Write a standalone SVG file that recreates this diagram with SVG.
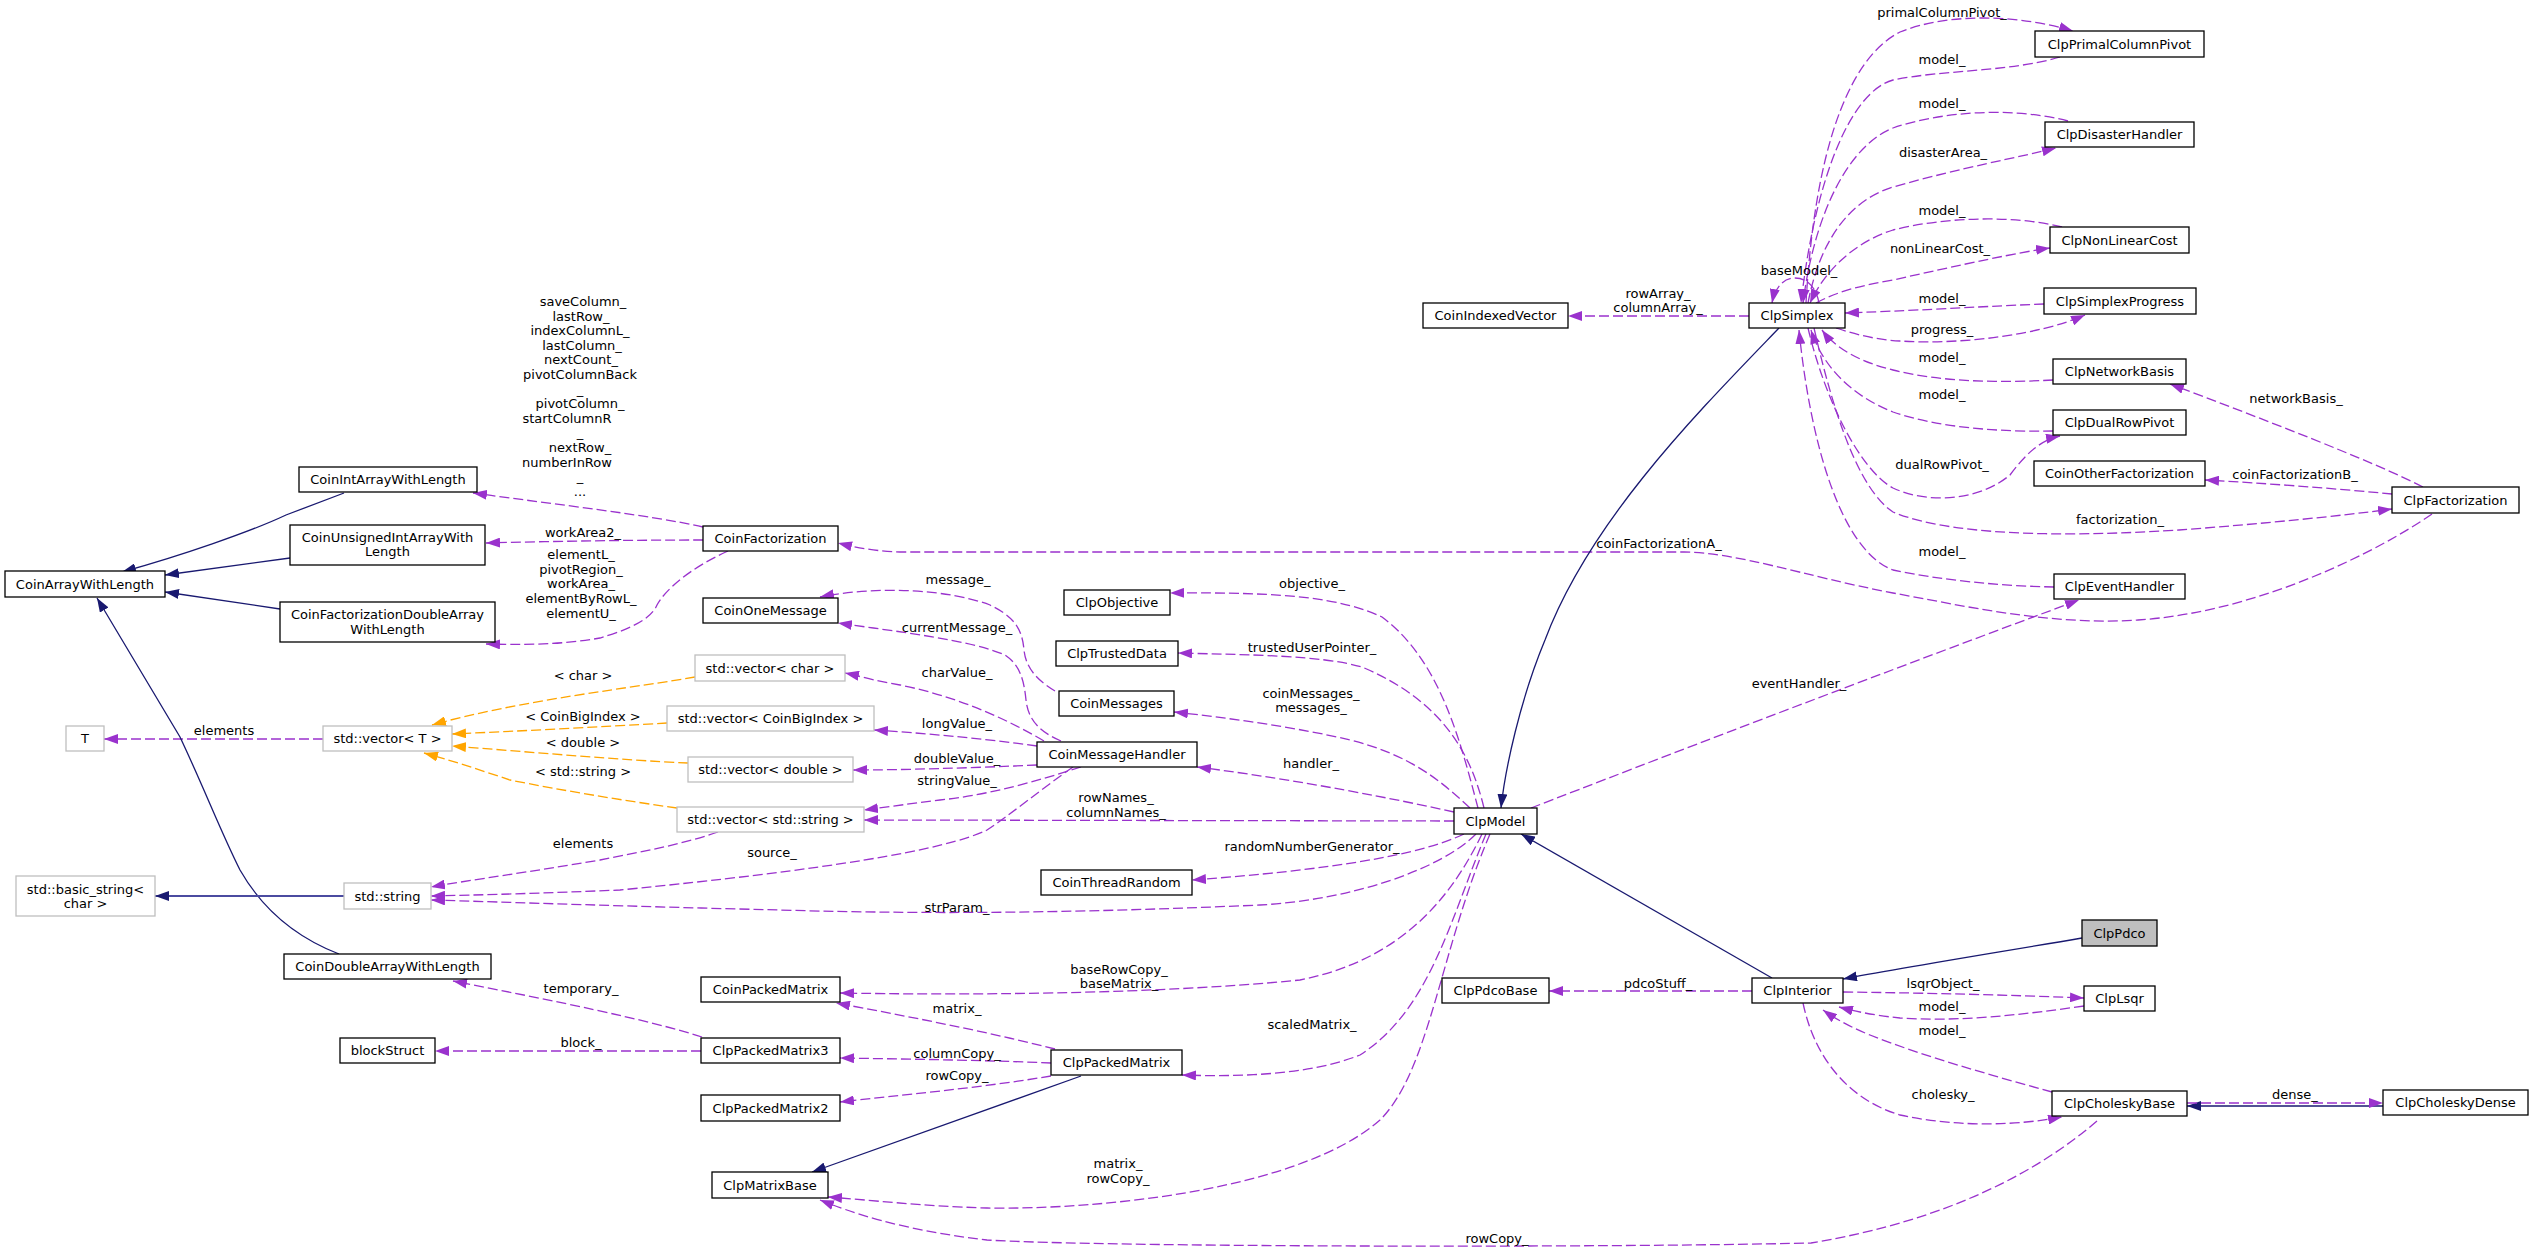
<svg xmlns="http://www.w3.org/2000/svg" width="2533" height="1252" viewBox="0 0 2533 1252">
<style>
text{font-family:"DejaVu Sans",sans-serif;font-size:13px;fill:#000}
.l{text-anchor:middle}
.n text{text-anchor:middle}
.n rect{fill:#fff;stroke:#000;stroke-width:1.3}
.g rect{stroke:#bfbfbf}
.e{fill:none;stroke-width:1.3}
.u{stroke:#9a32cd;stroke-dasharray:10,4;marker-end:url(#ap)}
.i{stroke:#191970;marker-end:url(#an)}
.t{stroke:#ffa500;stroke-dasharray:10,4;marker-end:url(#ao)}
</style>
<defs>
<marker id="ap" viewBox="0 0 14 10" refX="14" refY="5" markerWidth="14" markerHeight="10" markerUnits="userSpaceOnUse" orient="auto"><path d="M0,0L14,5L0,10z" fill="#9a32cd"/></marker>
<marker id="an" viewBox="0 0 14 10" refX="14" refY="5" markerWidth="14" markerHeight="10" markerUnits="userSpaceOnUse" orient="auto"><path d="M0,0L14,5L0,10z" fill="#191970"/></marker>
<marker id="ao" viewBox="0 0 14 10" refX="14" refY="5" markerWidth="14" markerHeight="10" markerUnits="userSpaceOnUse" orient="auto"><path d="M0,0L14,5L0,10z" fill="#ffa500"/></marker>
</defs>
<rect x="0" y="0" width="2533" height="1252" fill="#fff"/>
<g id="edges">
<!-- ClpSimplex neighbourhood -->
<path class="e u" d="M1806,303 C1814,160 1845,60 1900,32 C1950,12 2020,15 2073,31"/>
<path class="e u" d="M2060,57 C2010,72 1940,70 1893,80 C1850,92 1815,180 1801,303"/>
<path class="e u" d="M2068,121 C2010,106 1940,112 1893,128 C1850,145 1815,210 1803,303"/>
<path class="e u" d="M1808,303 C1820,240 1850,200 1893,187 C1960,168 2020,157 2056,148"/>
<path class="e u" d="M2062,227 C2010,214 1940,218 1893,230 C1855,242 1825,270 1810,303"/>
<path class="e u" d="M1816,303 C1840,290 1865,285 1893,280 C1960,265 2020,252 2050,248"/>
<path class="e u" d="M2044,304 C1990,306 1930,310 1845,313"/>
<path class="e u" d="M1836,328 C1860,336 1880,340 1900,341 C1960,345 2040,335 2085,315"/>
<path class="e u" d="M2053,380 C2000,383 1940,382 1893,370 C1860,362 1835,348 1822,330"/>
<path class="e u" d="M2053,431 C2000,432 1940,428 1893,412 C1850,395 1822,365 1811,330"/>
<path class="e u" d="M1808,328 C1825,400 1860,470 1893,488 C1930,505 1980,500 2010,475 C2025,455 2040,440 2060,436"/>
<path class="e u" d="M1814,328 C1835,420 1860,490 1893,512 C1960,540 2100,535 2179,530 C2260,524 2340,516 2392,509"/>
<path class="e u" d="M2054,587 C2000,586 1940,580 1893,570 C1840,550 1810,440 1799,330"/>
<path class="e u" d="M2423,487 C2370,460 2260,418 2170,384"/>
<path class="e u" d="M2392,494 C2330,488 2260,483 2205,480"/>
<path class="e u" d="M2432,514 C2380,550 2260,612 2138,620 C2050,626 1960,605 1893,593 C1800,575 1740,553 1684,552 L900,552 C870,551 850,546 838,543"/>
<path class="e u" d="M1531,808 C1650,762 1850,685 2079,600"/>
<path class="e u" d="M1749,316 L1568,316"/>
<path class="e u" d="M1819,303 C1816,287 1807,278 1795,278 C1783,278 1775,288 1772,303"/>
<path class="e i" d="M1779,328 C1700,410 1590,520 1545,640 C1520,700 1505,770 1501,808"/>
<!-- ClpModel usages -->
<path class="e u" d="M1478,808 C1460,740 1440,660 1382,617 C1340,598 1290,592 1170,593"/>
<path class="e u" d="M1484,808 C1470,750 1440,700 1362,667 C1320,655 1250,655 1178,653"/>
<path class="e u" d="M1470,808 C1440,780 1410,755 1350,740 C1300,728 1230,718 1174,712"/>
<path class="e u" d="M1454,812 C1400,800 1300,780 1197,767"/>
<path class="e u" d="M1454,821 L864,820"/>
<path class="e u" d="M1464,834 C1420,855 1330,870 1192,880"/>
<path class="e u" d="M1476,834 C1440,870 1350,900 1260,905 C1100,912 950,915 780,910 C650,907 500,902 431,900"/>
<path class="e u" d="M1482,834 C1450,900 1400,960 1300,980 C1150,995 950,995 840,993"/>
<path class="e u" d="M1486,834 C1450,920 1430,1010 1360,1055 C1310,1075 1240,1077 1182,1075"/>
<path class="e u" d="M1490,834 C1440,950 1430,1070 1380,1120 C1300,1190 1100,1210 987,1208 C920,1206 870,1200 828,1197"/>
<!-- CoinMessageHandler / messages -->
<path class="e u" d="M1073,767 C1040,790 1010,815 987,830 C946,850 824,870 620,890 C550,893 480,895 431,896"/>
<path class="e u" d="M718,832 C680,845 640,852 600,860 C530,872 470,880 431,887"/>
<path class="e u" d="M1044,741 C1000,715 950,695 900,685 C870,680 860,676 845,673"/>
<path class="e u" d="M1037,746 C980,738 920,733 874,730"/>
<path class="e u" d="M1037,765 C970,768 900,770 853,770"/>
<path class="e u" d="M1081,767 C1040,780 990,795 940,800 C900,805 880,808 864,810"/>
<path class="e u" d="M1055,691 C1040,682 1026,670 1024,650 C1022,625 1010,615 990,605 C950,590 880,585 820,597"/>
<path class="e u" d="M1061,741 C1040,732 1028,720 1026,700 C1024,680 1020,665 1005,655 C970,640 900,632 838,623"/>
<!-- template instances -->
<path class="e t" d="M695,677 C640,687 520,700 432,725"/>
<path class="e t" d="M667,723 C600,727 520,731 452,734"/>
<path class="e t" d="M688,763 C620,760 530,752 452,746"/>
<path class="e t" d="M677,808 C620,800 560,790 510,780 C480,770 450,760 424,753"/>
<path class="e u" d="M323,739 L104,739"/>
<!-- CoinFactorization -->
<path class="e u" d="M703,527 C650,515 560,505 473,493"/>
<path class="e u" d="M703,540 C640,540 560,541 486,543"/>
<path class="e u" d="M728,551 C690,568 665,590 657,605 C650,622 620,632 600,638 C560,645 520,645 486,644"/>
<!-- inheritance -->
<path class="e i" d="M344,493 L286,515 C250,532 180,556 122,572"/>
<path class="e i" d="M290,558 L165,575"/>
<path class="e i" d="M280,609 L165,592"/>
<path class="e i" d="M339,954 C290,935 260,905 240,870 C220,830 205,790 180,737 L97,598"/>
<path class="e i" d="M344,896 L155,896" style="stroke:#4b4ba0;stroke-width:1.8"/>
<path class="e i" d="M1081,1076 L812,1172"/>
<path class="e i" d="M1772,978 L1521,834"/>
<path class="e i" d="M2082,938 C2000,952 1900,968 1843,979"/>
<path class="e i" d="M2383,1106 L2187,1106"/>
<!-- packed matrices -->
<path class="e u" d="M702,1037 C650,1020 550,1000 453,981"/>
<path class="e u" d="M701,1051 L435,1051"/>
<path class="e u" d="M1055,1049 C980,1030 900,1015 836,1003"/>
<path class="e u" d="M1051,1063 C980,1060 900,1059 840,1058"/>
<path class="e u" d="M1051,1076 C980,1088 900,1095 840,1102"/>
<!-- ClpInterior -->
<path class="e u" d="M1752,991 L1549,991"/>
<path class="e u" d="M1843,992 C1930,993 2010,995 2084,998"/>
<path class="e u" d="M2084,1006 C2020,1015 1960,1022 1900,1018 C1870,1015 1850,1010 1839,1007"/>
<path class="e u" d="M2052,1092 C1990,1075 1920,1055 1870,1035 C1845,1025 1830,1015 1823,1010"/>
<path class="e u" d="M1803,1003 C1815,1060 1850,1100 1900,1115 C1960,1128 2020,1125 2062,1117"/>
<path class="e u" d="M2097,1121 C2040,1170 1950,1220 1811,1243 C1600,1248 1100,1247 987,1240 C900,1230 850,1212 820,1200"/>
<path class="e u" d="M2187,1103 L2383,1103"/>
<!-- edge labels -->
<text class="l" x="1942" y="17">primalColumnPivot_</text>
<text class="l" x="1942" y="64">model_</text>
<text class="l" x="1942" y="108">model_</text>
<text class="l" x="1943" y="157">disasterArea_</text>
<text class="l" x="1942" y="215">model_</text>
<text class="l" x="1940" y="253">nonLinearCost_</text>
<text class="l" x="1942" y="303">model_</text>
<text class="l" x="1942" y="334">progress_</text>
<text class="l" x="1942" y="362">model_</text>
<text class="l" x="1942" y="399">model_</text>
<text class="l" x="2296" y="403">networkBasis_</text>
<text class="l" x="1942" y="469">dualRowPivot_</text>
<text class="l" x="2295" y="479">coinFactorizationB_</text>
<text class="l" x="2120" y="524">factorization_</text>
<text class="l" x="1942" y="556">model_</text>
<text class="l" x="1799" y="275">baseModel_</text>
<text class="l" x="1658" y="298">rowArray_</text>
<text class="l" x="1658" y="312">columnArray_</text>
<text class="l" x="1659" y="548">coinFactorizationA_</text>
<text class="l" x="1799" y="688">eventHandler_</text>
<text class="l" x="1312" y="588">objective_</text>
<text class="l" x="1312" y="652">trustedUserPointer_</text>
<text class="l" x="1311" y="698">coinMessages_</text>
<text class="l" x="1311" y="712">messages_</text>
<text class="l" x="1311" y="768">handler_</text>
<text class="l" x="1116" y="802">rowNames_</text>
<text class="l" x="1116" y="817">columnNames_</text>
<text class="l" x="1312" y="851">randomNumberGenerator_</text>
<text class="l" x="957" y="912">strParam_</text>
<text class="l" x="772" y="857">source_</text>
<text class="l" x="1119" y="974">baseRowCopy_</text>
<text class="l" x="1119" y="988">baseMatrix_</text>
<text class="l" x="1312" y="1029">scaledMatrix_</text>
<text class="l" x="1118" y="1168">matrix_</text>
<text class="l" x="1118" y="1183">rowCopy_</text>
<text class="l" x="1658" y="988">pdcoStuff_</text>
<text class="l" x="1497" y="1243">rowCopy_</text>
<text class="l" x="1943" y="988">lsqrObject_</text>
<text class="l" x="1942" y="1011">model_</text>
<text class="l" x="1942" y="1035">model_</text>
<text class="l" x="1943" y="1099">cholesky_</text>
<text class="l" x="2295" y="1099">dense_</text>
<text class="l" x="958" y="584">message_</text>
<text class="l" x="957" y="632">currentMessage_</text>
<text class="l" x="957" y="677">charValue_</text>
<text class="l" x="957" y="728">longValue_</text>
<text class="l" x="957" y="763">doubleValue_</text>
<text class="l" x="957" y="785">stringValue_</text>
<text class="l" x="957" y="1013">matrix_</text>
<text class="l" x="957" y="1058">columnCopy_</text>
<text class="l" x="957" y="1080">rowCopy_</text>
<text class="l" x="583" y="848">elements</text>
<text class="l" x="224" y="735">elements</text>
<text class="l" x="581" y="993">temporary_</text>
<text class="l" x="581" y="1047">block_</text>
<text class="l" x="583" y="680">&lt; char &gt;</text>
<text class="l" x="583" y="721">&lt; CoinBigIndex &gt;</text>
<text class="l" x="583" y="747">&lt; double &gt;</text>
<text class="l" x="583" y="776">&lt; std::string &gt;</text>
<text class="l" x="583" y="537">workArea2_</text>
<text class="l" x="581" y="559">elementL_</text>
<text class="l" x="581" y="574">pivotRegion_</text>
<text class="l" x="581" y="588">workArea_</text>
<text class="l" x="581" y="603">elementByRowL_</text>
<text class="l" x="581" y="618">elementU_</text>
<text class="l" x="583" y="306">saveColumn_</text>
<text class="l" x="581" y="320.6">lastRow_</text>
<text class="l" x="580" y="335.2">indexColumnL_</text>
<text class="l" x="582" y="349.8">lastColumn_</text>
<text class="l" x="581" y="364.4">nextCount_</text>
<text class="l" x="580" y="379">pivotColumnBack</text>
<text class="l" x="580" y="393.6">_</text>
<text class="l" x="580" y="408.2">pivotColumn_</text>
<text class="l" x="567" y="422.8">startColumnR</text>
<text class="l" x="580" y="437.4">_</text>
<text class="l" x="580" y="452">nextRow_</text>
<text class="l" x="567" y="466.6">numberInRow</text>
<text class="l" x="580" y="481.2">_</text>
<text class="l" x="580" y="495.8">...</text>
</g>
<g id="ClpPdco" class="n"><rect x="2082" y="920" width="75" height="26" style="fill:#bfbfbf"/><text x="2119.5" y="937.5">ClpPdco</text></g>
<g id="ClpInterior" class="n"><rect x="1752" y="978" width="91" height="25"/><text x="1797.5" y="995">ClpInterior</text></g>
<g id="ClpModel" class="n"><rect x="1454" y="808" width="83" height="26"/><text x="1495.5" y="825.5">ClpModel</text></g>
<g id="ClpSimplex" class="n"><rect x="1749" y="303" width="96" height="25"/><text x="1797" y="320">ClpSimplex</text></g>
<g id="CoinIndexedVector" class="n"><rect x="1423" y="303" width="145" height="25"/><text x="1495.5" y="320">CoinIndexedVector</text></g>
<g id="ClpPrimalColumnPivot" class="n"><rect x="2035" y="31" width="169" height="26"/><text x="2119.5" y="48.5">ClpPrimalColumnPivot</text></g>
<g id="ClpDisasterHandler" class="n"><rect x="2045" y="122" width="149" height="25"/><text x="2119.5" y="139">ClpDisasterHandler</text></g>
<g id="ClpNonLinearCost" class="n"><rect x="2050" y="227" width="139" height="26"/><text x="2119.5" y="244.5">ClpNonLinearCost</text></g>
<g id="ClpSimplexProgress" class="n"><rect x="2044" y="288" width="152" height="26"/><text x="2120" y="305.5">ClpSimplexProgress</text></g>
<g id="ClpNetworkBasis" class="n"><rect x="2053" y="359" width="133" height="25"/><text x="2119.5" y="376">ClpNetworkBasis</text></g>
<g id="ClpDualRowPivot" class="n"><rect x="2053" y="410" width="133" height="25"/><text x="2119.5" y="427">ClpDualRowPivot</text></g>
<g id="CoinOtherFactorization" class="n"><rect x="2034" y="461" width="171" height="25"/><text x="2119.5" y="478">CoinOtherFactorization</text></g>
<g id="ClpFactorization" class="n"><rect x="2392" y="487" width="127" height="26"/><text x="2455.5" y="504.5">ClpFactorization</text></g>
<g id="ClpEventHandler" class="n"><rect x="2054" y="574" width="131" height="25"/><text x="2119.5" y="591">ClpEventHandler</text></g>
<g id="CoinFactorization" class="n"><rect x="703" y="526" width="135" height="25"/><text x="770.5" y="543">CoinFactorization</text></g>
<g id="CoinOneMessage" class="n"><rect x="703" y="598" width="135" height="25"/><text x="770.5" y="615">CoinOneMessage</text></g>
<g id="ClpObjective" class="n"><rect x="1064" y="590" width="106" height="25"/><text x="1117" y="607">ClpObjective</text></g>
<g id="ClpTrustedData" class="n"><rect x="1056" y="641" width="122" height="25"/><text x="1117" y="658">ClpTrustedData</text></g>
<g id="CoinMessages" class="n"><rect x="1059" y="691" width="115" height="25"/><text x="1116.5" y="708">CoinMessages</text></g>
<g id="CoinMessageHandler" class="n"><rect x="1037" y="742" width="160" height="25"/><text x="1117" y="759">CoinMessageHandler</text></g>
<g id="vector_char" class="n g"><rect x="695" y="655" width="150" height="26"/><text x="770" y="672.5">std::vector&lt; char &gt;</text></g>
<g id="vector_CoinBigIndex" class="n g"><rect x="667" y="706" width="207" height="25"/><text x="770.5" y="723">std::vector&lt; CoinBigIndex &gt;</text></g>
<g id="vector_double" class="n g"><rect x="688" y="757" width="165" height="25"/><text x="770.5" y="774">std::vector&lt; double &gt;</text></g>
<g id="vector_string" class="n g"><rect x="677" y="807" width="187" height="25"/><text x="770.5" y="824">std::vector&lt; std::string &gt;</text></g>
<g id="vector_T" class="n g"><rect x="323" y="726" width="129" height="25"/><text x="387.5" y="743">std::vector&lt; T &gt;</text></g>
<g id="T" class="n g"><rect x="66" y="726" width="38" height="25"/><text x="85" y="743">T</text></g>
<g id="std_string" class="n g"><rect x="344" y="883" width="87" height="26"/><text x="387.5" y="900.5">std::string</text></g>
<g id="basic_string" class="n g"><rect x="16" y="876" width="139" height="40"/><text x="85.5" y="893.5">std::basic_string&lt;</text><text x="85.5" y="907.5">char &gt;</text></g>
<g id="CoinArrayWithLength" class="n"><rect x="5" y="571" width="160" height="26"/><text x="85" y="588.5">CoinArrayWithLength</text></g>
<g id="CoinIntArrayWithLength" class="n"><rect x="299" y="467" width="178" height="25"/><text x="388" y="484">CoinIntArrayWithLength</text></g>
<g id="CoinUnsignedIntArrayWithLength" class="n"><rect x="290" y="525" width="195" height="40"/><text x="387.5" y="542">CoinUnsignedIntArrayWith</text><text x="387.5" y="556">Length</text></g>
<g id="CoinFactorizationDoubleArrayWithLength" class="n"><rect x="280" y="602" width="215" height="40"/><text x="387.5" y="619">CoinFactorizationDoubleArray</text><text x="387.5" y="633.5">WithLength</text></g>
<g id="CoinDoubleArrayWithLength" class="n"><rect x="284" y="954" width="207" height="25"/><text x="387.5" y="971">CoinDoubleArrayWithLength</text></g>
<g id="blockStruct" class="n"><rect x="340" y="1038" width="95" height="25"/><text x="387.5" y="1055">blockStruct</text></g>
<g id="CoinThreadRandom" class="n"><rect x="1041" y="870" width="151" height="25"/><text x="1116.5" y="887">CoinThreadRandom</text></g>
<g id="CoinPackedMatrix" class="n"><rect x="701" y="977" width="139" height="25"/><text x="770.5" y="994">CoinPackedMatrix</text></g>
<g id="ClpPackedMatrix3" class="n"><rect x="701" y="1038" width="139" height="25"/><text x="770.5" y="1055">ClpPackedMatrix3</text></g>
<g id="ClpPackedMatrix2" class="n"><rect x="701" y="1095" width="139" height="26"/><text x="770.5" y="1112.5">ClpPackedMatrix2</text></g>
<g id="ClpMatrixBase" class="n"><rect x="712" y="1172" width="116" height="26"/><text x="770" y="1189.5">ClpMatrixBase</text></g>
<g id="ClpPackedMatrix" class="n"><rect x="1051" y="1050" width="131" height="25"/><text x="1116.5" y="1067">ClpPackedMatrix</text></g>
<g id="ClpPdcoBase" class="n"><rect x="1442" y="978" width="107" height="25"/><text x="1495.5" y="995">ClpPdcoBase</text></g>
<g id="ClpLsqr" class="n"><rect x="2084" y="986" width="71" height="25"/><text x="2119.5" y="1003">ClpLsqr</text></g>
<g id="ClpCholeskyBase" class="n"><rect x="2052" y="1091" width="135" height="25"/><text x="2119.5" y="1108">ClpCholeskyBase</text></g>
<g id="ClpCholeskyDense" class="n"><rect x="2383" y="1090" width="145" height="25"/><text x="2455.5" y="1107">ClpCholeskyDense</text></g>
</svg>
